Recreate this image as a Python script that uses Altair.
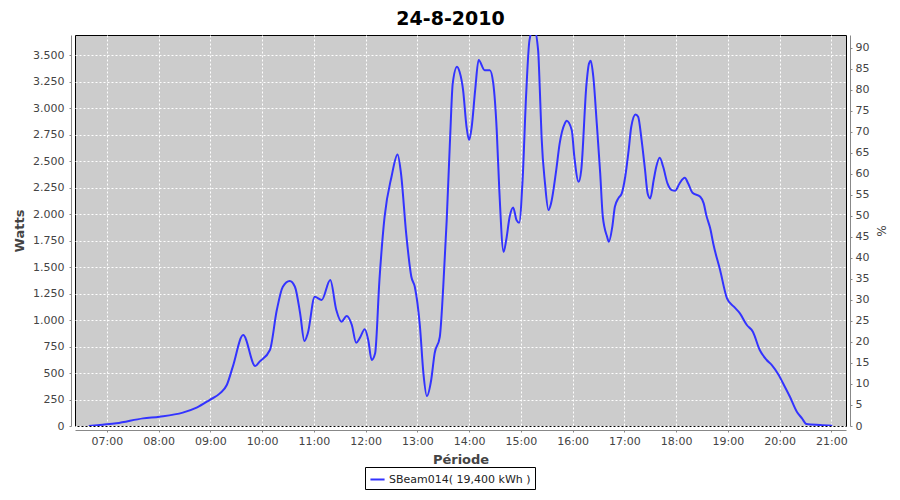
import altair as alt
import pandas as pd

# ---- data ----
times = ["06:39", "06:55", "07:11", "07:42", "08:01", "08:28", "08:44", "08:59", "09:11", "09:19",
         "09:26", "09:38", "09:52", "09:57", "10:09", "10:17", "10:24", "10:32", "10:38", "10:44",
         "10:49", "10:53", "11:01", "11:09", "11:19", "11:26", "11:32", "11:38", "11:44", "11:49",
         "11:53", "11:59", "12:03", "12:07", "12:11", "12:16", "12:22", "12:30", "12:37", "12:41",
         "12:47", "12:53", "12:57", "13:03", "13:07", "13:11", "13:16", "13:20", "13:26", "13:30",
         "13:34", "13:38", "13:41", "13:46", "13:49", "13:53", "13:57", "14:00", "14:03", "14:07",
         "14:11", "14:18", "14:24", "14:28", "14:32", "14:35", "14:40", "14:43", "14:47", "14:51",
         "14:55", "14:58", "15:02", "15:06", "15:10", "15:15", "15:20", "15:22", "15:24", "15:28",
         "15:32", "15:35", "15:41", "15:45", "15:51", "15:53", "15:59", "16:02", "16:07", "16:10",
         "16:16", "16:19", "16:21", "16:24", "16:28", "16:32", "16:35", "16:40", "16:42", "16:46",
         "16:49", "16:53", "16:57", "17:01", "17:05", "17:08", "17:13", "17:16", "17:20", "17:24",
         "17:27", "17:30", "17:34", "17:37", "17:41", "17:45", "17:50", "17:55", "17:59", "18:04",
         "18:10", "18:14", "18:19", "18:28", "18:32", "18:35", "18:40", "18:43", "18:51", "18:59",
         "19:07", "19:14", "19:22", "19:29", "19:37", "19:45", "19:51", "19:59", "20:04", "20:12",
         "20:20", "20:26", "20:31", "20:47", "21:01"]
watts = [0, 12, 25, 72, 88, 126, 173, 245, 308, 387,
         560, 858, 566, 607, 717, 1094, 1314, 1368, 1314, 1066,
         802, 877, 1220, 1189, 1377, 1094, 984, 1038, 953, 786,
         827, 912, 811, 623, 686, 1377, 1975, 2352, 2563, 2384,
         1818, 1409, 1314, 937, 497, 283, 434, 686, 842, 1314,
         1943, 2729, 3233, 3390, 3340, 3170, 2824, 2698, 2824, 3170,
         3453, 3358, 3358, 3233, 2792, 2226, 1644, 1755, 1975, 2063,
         1943, 1918, 2321, 3107, 3642, 3760, 3547, 3170, 2729, 2289,
         2038, 2101, 2415, 2667, 2856, 2880, 2792, 2541, 2305, 2415,
         3220, 3421, 3446, 3296, 2856, 2384, 1975, 1786, 1739, 1880,
         2069, 2148, 2195, 2352, 2604, 2824, 2940, 2918, 2698, 2415,
         2195, 2148, 2321, 2446, 2531, 2446, 2289, 2226, 2220, 2289,
         2342, 2289, 2201, 2163, 2101, 1990, 1850, 1724, 1472, 1205,
         1126, 1063, 953, 890, 717, 623, 575, 481, 403, 276,
         135, 72, 19, 9, 3]
series_label = "SBeam014( 19,400 kWh )"
hour_ticks = list(range(7, 22))
watt_ticks = list(range(0, 3501, 250))
watt_domain = [0, 3690]
pct_ticks = list(range(0, 91, 5))
pct_domain = [0, 93]

df = pd.DataFrame({
    "time": ["2010-08-24T" + t for t in times],
    "watts": watts,
    "series": series_label,
})
pct_df = pd.DataFrame({"pct": pct_domain})

FONT = "DejaVu Sans"
LABEL_COLOR = "#444444"


def dt(h, m=0):
    return alt.DateTime(year=2010, month=8, date=24, hours=h, minutes=m)


line = alt.Chart(df).mark_line(interpolate="monotone", strokeWidth=2, clip=True).encode(
    x=alt.X(
        "time:T",
        title="Période",
        scale=alt.Scale(domain=[dt(6, 23), dt(21, 17)]),
        axis=alt.Axis(
            values=[dt(h) for h in hour_ticks],
            format="%H:%M",
            offset=4,
            tickSize=2,
            labelPadding=3,
            titlePadding=7,
            grid=True,
        ),
    ),
    y=alt.Y(
        "watts:Q",
        title="Watts",
        scale=alt.Scale(domain=watt_domain, nice=False, zero=True),
        axis=alt.Axis(
            values=watt_ticks,
            labelExpr="replace(format(datum.value, ','), ',', '.')",
            offset=4,
            tickSize=2,
            labelPadding=5,
            titlePadding=6,
            grid=True,
        ),
    ),
    color=alt.Color(
        "series:N",
        scale=alt.Scale(range=["#3333ff"]),
        legend=alt.Legend(
            title=None,
            orient="none",
            legendX=290,
            legendY=432,
            direction="horizontal",
            strokeColor="black",
            fillColor="white",
            padding=4,
            cornerRadius=0,
            symbolType="stroke",
            symbolStrokeWidth=2,
            symbolSize=200,
            labelFont=FONT,
            labelFontSize=11,
            labelColor="#222222",
            labelOffset=3,
        ),
    ),
)

right = alt.Chart(pct_df).mark_point(opacity=0).encode(
    y=alt.Y(
        "pct:Q",
        title="%",
        scale=alt.Scale(domain=pct_domain, nice=False, zero=True),
        axis=alt.Axis(
            orient="right",
            values=pct_ticks,
            offset=4,
            tickSize=2,
            labelPadding=3,
            titlePadding=5,
            grid=False,
            titleFontWeight="normal",
            titleFontSize=12,
        ),
    )
)

chart = (
    alt.layer(line, right)
    .resolve_scale(y="independent")
    .properties(
        width=771,
        height=391,
        autosize="none",
        padding={"left": 67, "top": 27, "right": 46, "bottom": 66},
        title=alt.TitleParams(
            "24-8-2010",
            font=FONT,
            fontSize=19,
            fontWeight="bold",
            color="black",
            anchor="middle",
            dx=-10,
            offset=3,
        ),
    )
    .configure_view(fill="#cccccc", stroke="black", strokeWidth=1)
    .configure_axis(
        domainColor="#888888",
        tickColor="#888888",
        labelFont=FONT,
        labelFontSize=11,
        labelColor=LABEL_COLOR,
        titleFont=FONT,
        titleFontSize=13,
        titleFontWeight="bold",
        titleColor=LABEL_COLOR,
        gridColor="white",
        gridDash=[2, 2],
        gridOpacity=1,
        gridWidth=1,
    )
)

chart.save("out.html", embed_options={"renderer": "svg", "actions": False})
